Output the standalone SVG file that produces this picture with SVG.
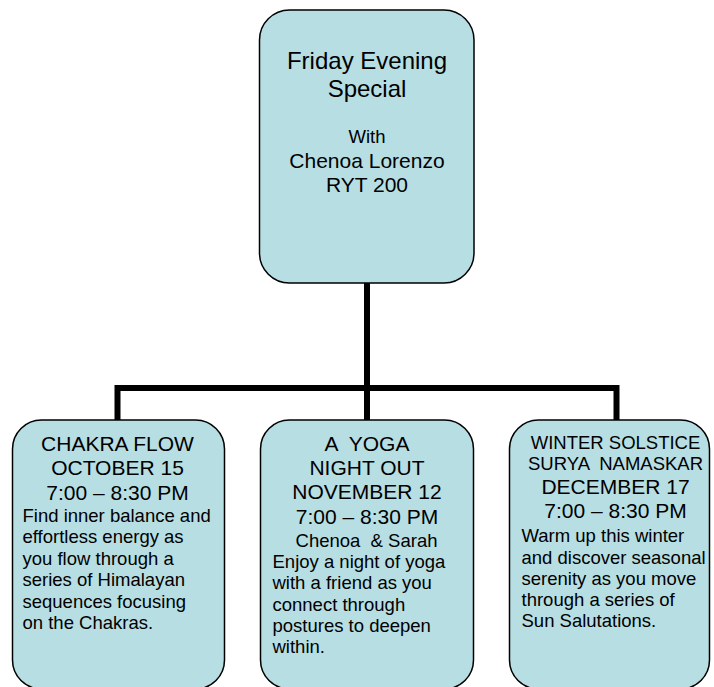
<svg xmlns="http://www.w3.org/2000/svg" width="714" height="687" viewBox="0 0 714 687">
<style>
.box{fill:#B7DEE3;stroke:#000;stroke-width:1.5}
.conn{fill:none;stroke:#000;stroke-width:6;stroke-linejoin:miter;stroke-linecap:butt}
text{font-family:"Liberation Sans",Arial,sans-serif;fill:#000}
.c{text-anchor:middle}
.t24{font-size:24px}
.t21{font-size:21px}
.t18{font-size:18.5px}
</style>
<rect width="714" height="687" fill="#fff"/>
<g id="connectors">
<path class="conn" d="M367,283 V420"/>
<path class="conn" d="M117.5,420 V388 H616.5 V420"/>
</g>
<g id="node-top">
<rect class="box" x="259.5" y="10" width="214.5" height="273" rx="30" ry="30"/>
<text class="c t24" x="367" y="68.5">Friday Evening</text>
<text class="c t24" x="367" y="96.5">Special</text>
<text class="c t18" x="367" y="143">With</text>
<text class="c t21" x="367" y="168">Chenoa Lorenzo</text>
<text class="c t21" x="367" y="192">RYT 200</text>
</g>
<g id="node-chakra">
<rect class="box" x="12.5" y="420" width="212" height="269" rx="29" ry="29"/>
<text class="c t21" x="117.5" y="450.5">CHAKRA FLOW</text>
<text class="c t21" x="117.5" y="475">OCTOBER 15</text>
<text class="c t21" x="117.5" y="499.5">7:00 – 8:30 PM</text>
<text class="t18" x="22.5" y="522">Find inner balance and</text>
<text class="t18" x="22.5" y="543">effortless energy as</text>
<text class="t18" x="22.5" y="564.5">you flow through a</text>
<text class="t18" x="22.5" y="586">series of Himalayan</text>
<text class="t18" x="22.5" y="607.5">sequences focusing</text>
<text class="t18" x="22.5" y="628.5">on the Chakras.</text>
</g>
<g id="node-yoga">
<rect class="box" x="260.5" y="420" width="213" height="269" rx="29" ry="29"/>
<text class="c t21" x="367" y="450.5" xml:space="preserve">A  YOGA</text>
<text class="c t21" x="367" y="474.5">NIGHT OUT</text>
<text class="c t21" x="367" y="499">NOVEMBER 12</text>
<text class="c t21" x="367" y="524">7:00 – 8:30 PM</text>
<text class="c t18" x="366.5" y="546.5" xml:space="preserve">Chenoa  &amp; Sarah</text>
<text class="t18" x="272.5" y="568">Enjoy a night of yoga</text>
<text class="t18" x="272.5" y="589">with a friend as you</text>
<text class="t18" x="272.5" y="610.5">connect through</text>
<text class="t18" x="272.5" y="631.5">postures to deepen</text>
<text class="t18" x="272.5" y="652.5">within.</text>
</g>
<g id="node-winter">
<rect class="box" x="509.5" y="420" width="200" height="269" rx="29" ry="29"/>
<text class="c t18" x="615.5" y="448.5">WINTER SOLSTICE</text>
<text class="c t18" x="615.5" y="470" xml:space="preserve">SURYA  NAMASKAR</text>
<text class="c t21" x="615.5" y="493.5">DECEMBER 17</text>
<text class="c t21" x="615.5" y="518">7:00 – 8:30 PM</text>
<text class="t18" x="521.5" y="541.5">Warm up this winter</text>
<text class="t18" x="521.5" y="563.5">and discover seasonal</text>
<text class="t18" x="521.5" y="585">serenity as you move</text>
<text class="t18" x="521.5" y="606">through a series of</text>
<text class="t18" x="521.5" y="627">Sun Salutations.</text>
</g>
</svg>
